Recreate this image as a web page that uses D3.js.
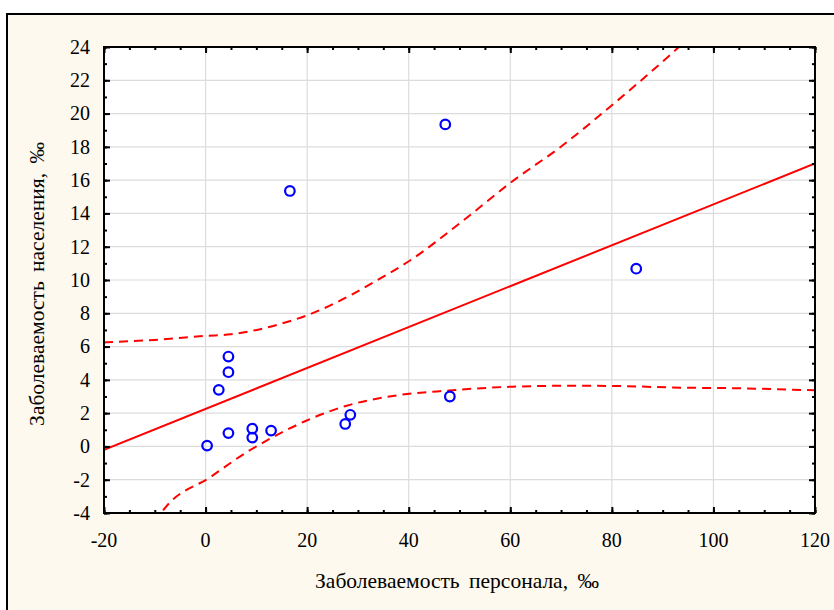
<!DOCTYPE html>
<html><head><meta charset="utf-8">
<script src="https://cdn.jsdelivr.net/npm/d3@7/dist/d3.min.js"></script>
<style>
html,body{margin:0;padding:0;background:#fff;}
svg{display:block;}
</style></head>
<body>
<svg id="chart" width="834" height="610"></svg>
<script>
// ---- data ----
const xTicks = [-20, 0, 20, 40, 60, 80, 100, 120];
const yTicks = [-4, -2, 0, 2, 4, 6, 8, 10, 12, 14, 16, 18, 20, 22, 24];
const staffRate = [0.3, 2.6, 4.5, 4.5, 4.5, 9.2, 9.2, 12.9, 16.6, 27.5, 28.5, 47.2, 48.1, 84.8];
const popRate   = [0.05, 3.4, 4.46, 5.4, 0.8, 1.07, 0.53, 0.95, 15.35, 1.35, 1.9, 19.35, 3.0, 10.68];
const fitX = [-20, 120];
const fitY = [-0.2, 17.0];
const upperX = [-20, -10, 0, 5, 14.5, 20, 28.9, 33.5, 40.1, 50.6, 60.5, 69.7, 80.2, 92.7, 95];
const upperY = [6.25, 6.4, 6.64, 6.74, 7.34, 7.88, 9.14, 9.94, 11.14, 13.54, 15.95, 17.95, 20.55, 23.86, 24.5];
const lowerX = [-10, -8.9, 1.3, 8.5, 13.1, 19.7, 27.6, 36.2, 47.9, 60.5, 72.9, 80.8, 94, 103.9, 120];
const lowerY = [-4.6, -4.07, -1.77, -0.27, 0.53, 1.53, 2.43, 3.0, 3.36, 3.59, 3.65, 3.63, 3.53, 3.5, 3.37];
const xTitle = "Заболеваемость персонала, ‰";
const yTitle = "Заболеваемость населения, ‰";

const FONT = "'Liberation Serif', 'Times New Roman', 'DejaVu Serif', serif";

// ---- layout ----
const svg = d3.select("#chart").attr("font-family", FONT);
const L = 104, R = 815, T = 47, B = 513;

// outer panel
svg.append("rect").attr("x", 7).attr("y", 14).attr("width", 834).attr("height", 610)
  .attr("fill", "#fdf9ee").attr("stroke", "#000").attr("stroke-width", 2);

const x = d3.scaleLinear().domain([-20, 120]).range([L, R]);
const y = d3.scaleLinear().domain([-4, 24]).range([B, T]);

// plot background
svg.append("rect").attr("x", L).attr("y", T).attr("width", R - L).attr("height", B - T).attr("fill", "#fff");

// grid
const grid = svg.append("g").attr("stroke", "#dcdcdc").attr("stroke-width", 1.2);
grid.selectAll("line.gx").data(xTicks.slice(1, -1)).join("line")
  .attr("x1", d => x(d)).attr("x2", d => x(d)).attr("y1", T).attr("y2", B);
grid.selectAll("line.gy").data(yTicks.slice(1, -1)).join("line")
  .attr("y1", d => y(d)).attr("y2", d => y(d)).attr("x1", L).attr("x2", R);

// clip
svg.append("clipPath").attr("id", "clip").append("rect")
  .attr("x", L).attr("y", T).attr("width", R - L).attr("height", B - T);
const plot = svg.append("g").attr("clip-path", "url(#clip)");

const line = d3.line().x(d => x(d[0])).y(d => y(d[1])).curve(d3.curveMonotoneX);

plot.append("path").datum(upperX.map((v, i) => [v, upperY[i]]))
  .attr("d", line).attr("fill", "none").attr("stroke", "#ff0000")
  .attr("stroke-width", 2).attr("stroke-dasharray", "9,6");
plot.append("path").datum(lowerX.map((v, i) => [v, lowerY[i]]))
  .attr("d", line).attr("fill", "none").attr("stroke", "#ff0000")
  .attr("stroke-width", 2).attr("stroke-dasharray", "9,6");
plot.append("path").datum(fitX.map((v, i) => [v, fitY[i]]))
  .attr("d", d3.line().x(d => x(d[0])).y(d => y(d[1])))
  .attr("fill", "none").attr("stroke", "#ff0000").attr("stroke-width", 2);

// points
plot.selectAll("circle").data(staffRate.map((v, i) => [v, popRate[i]])).join("circle")
  .attr("cx", d => x(d[0])).attr("cy", d => y(d[1])).attr("r", 4.8)
  .attr("fill", "none").attr("stroke", "#0000ff").attr("stroke-width", 2.2);

// axes (ticks inside)
const xMinor = d3.range(-20, 121, 5);
const yMinor = d3.range(-4, 24.01, 1);
const axG = svg.append("g");
axG.append("g").attr("transform", `translate(0,${B})`)
  .call(d3.axisBottom(x).tickValues(xMinor).tickSize(-3).tickFormat(""));
axG.append("g").attr("transform", `translate(0,${B})`)
  .call(d3.axisBottom(x).tickValues(xTicks).tickSize(-6).tickFormat(""));
axG.append("g").attr("transform", `translate(0,${T})`)
  .call(d3.axisTop(x).tickValues(xMinor).tickSize(-3).tickFormat(""));
axG.append("g").attr("transform", `translate(0,${T})`)
  .call(d3.axisTop(x).tickValues(xTicks).tickSize(-6).tickFormat(""));
axG.append("g").attr("transform", `translate(${L},0)`)
  .call(d3.axisLeft(y).tickValues(yMinor).tickSize(-3).tickFormat(""));
axG.append("g").attr("transform", `translate(${L},0)`)
  .call(d3.axisLeft(y).tickValues(yTicks).tickSize(-6).tickFormat(""));
axG.append("g").attr("transform", `translate(${R},0)`)
  .call(d3.axisRight(y).tickValues(yMinor).tickSize(-3).tickFormat(""));
axG.append("g").attr("transform", `translate(${R},0)`)
  .call(d3.axisRight(y).tickValues(yTicks).tickSize(-6).tickFormat(""));
axG.selectAll(".domain").remove();
axG.selectAll("line").attr("stroke", "#000").attr("stroke-width", 2);

// frame
svg.append("rect").attr("x", L).attr("y", T).attr("width", R - L).attr("height", B - T)
  .attr("fill", "none").attr("stroke", "#000").attr("stroke-width", 2);

// tick labels
svg.append("g").selectAll("text").data(xTicks).join("text")
  .attr("font-family", FONT).attr("fill", "#000")
  .attr("x", d => x(d)).attr("y", 547).attr("text-anchor", "middle")
  .attr("font-size", 20).text(d => d);
svg.append("g").selectAll("text").data(yTicks).join("text")
  .attr("font-family", FONT).attr("fill", "#000")
  .attr("x", 90).attr("y", d => y(d)).attr("dy", "0.34em").attr("text-anchor", "end")
  .attr("font-size", 20).text(d => d);

// titles
svg.append("text").attr("font-family", FONT).attr("fill", "#000")
  .attr("x", 457).attr("y", 588).attr("text-anchor", "middle")
  .attr("font-size", 21.5).attr("word-spacing", 4).text(xTitle);
svg.append("text").attr("font-family", FONT).attr("fill", "#000")
  .attr("transform", `translate(44,${(T + B) / 2 + 4}) rotate(-90)`)
  .attr("text-anchor", "middle").attr("font-size", 21.5).attr("word-spacing", 4).text(yTitle);
</script>
</body></html>
